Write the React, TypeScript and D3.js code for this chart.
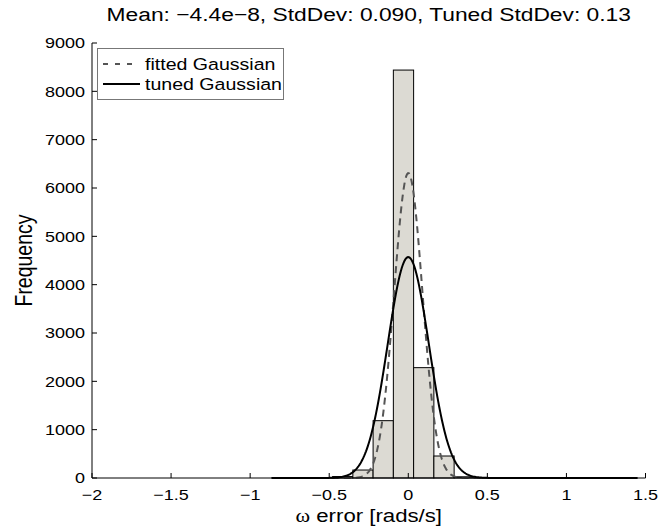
import React from "react";
import * as d3 from "d3";

// ---- data ----
const binStart = -0.863;
const binWidth = 0.1281;
const binCounts = [2, 3, 8, 30, 165, 1186, 8440, 2283, 455, 25, 4, 1];
const xTicks = [-2, -1.5, -1, -0.5, 0, 0.5, 1, 1.5];
const yTicks = [0, 1000, 2000, 3000, 4000, 5000, 6000, 7000, 8000, 9000];
const curveMean = 0;
const fittedStd = 0.09;
const fittedPeak = 6310;
const tunedStd = 0.13;
const tunedPeak = 4570;
const curveRange = [-0.863, 1.45];
const titleText = "Mean: \u22124.4e\u22128, StdDev: 0.090, Tuned StdDev: 0.13";
const legendLabels = ["fitted Gaussian", "tuned Gaussian"];

const W = 661, H = 530;
const L = 92, R = 645.5, T = 43, B = 478;
const SX = 1.2;

function Txt(props: { x: number; y: number; size: number; anchor?: string; rotate?: number; dy?: string; children: React.ReactNode }) {
  const { x, y, size, anchor = "start", rotate = 0, dy, children } = props;
  return (
    <text transform={`translate(${x},${y}) scale(${SX},1)${rotate ? ` rotate(${rotate})` : ""}`} fontSize={size} textAnchor={anchor} dy={dy}>
      {children}
    </text>
  );
}

export default function App() {
  const x = d3.scaleLinear().domain([-2, 1.5]).range([L, R]);
  const y = d3.scaleLinear().domain([0, 9000]).range([B, T]);
  const bins = binCounts.map((c, i) => ({ x0: binStart + i * binWidth, x1: binStart + (i + 1) * binWidth, c }));
  const n = 400;
  const xs = d3.range(n + 1).map((i) => curveRange[0] + (i / n) * (curveRange[1] - curveRange[0]));
  const gauss = (peak: number, s: number) => xs.map((v) => [v, peak * Math.exp(-((v - curveMean) ** 2) / (2 * s * s))] as [number, number]);
  const line = d3.line<[number, number]>().x((d) => x(d[0])).y((d) => y(d[1]));
  const fmtY = (v: number) => String(v);
  const fmtX = (v: number) => (v < 0 ? "\u2212" + String(-v) : String(v));
  const font = "'Liberation Sans', Arial, Helvetica, sans-serif";
  return (
    <svg width={W} height={H} style={{ position: "absolute", left: 0, top: 0, background: "#fff" }} fontFamily={font}>
      <rect width={W} height={H} fill="#fff" />
      {bins.map((b, i) => (
        <rect key={i} x={x(b.x0)} y={y(b.c)} width={x(b.x1) - x(b.x0)} height={B - y(b.c)} fill="#dcdad3" stroke="#000" strokeWidth={1} />
      ))}
      <path d={line(gauss(fittedPeak, fittedStd)) || ""} fill="none" stroke="#555" strokeWidth={2} strokeDasharray="7,5" />
      <path d={line(gauss(tunedPeak, tunedStd)) || ""} fill="none" stroke="#000" strokeWidth={2} />
      {/* axes */}
      <line x1={L} x2={L} y1={T} y2={B} stroke="#000" strokeWidth={1} />
      <line x1={L} x2={R} y1={B} y2={B} stroke="#000" strokeWidth={1} />
      {yTicks.map((t) => (
        <g key={"y" + t}>
          <line x1={L} x2={L + 5} y1={y(t)} y2={y(t)} stroke="#000" />
          <Txt x={L - 7} y={y(t)} dy="0.36em" anchor="end" size={15}>{fmtY(t)}</Txt>
        </g>
      ))}
      {xTicks.map((t) => (
        <g key={"x" + t}>
          <line x1={x(t)} x2={x(t)} y1={B} y2={B - 5} stroke="#000" />
          <Txt x={x(t)} y={B + 21.5} anchor="middle" size={15}>{fmtX(t)}</Txt>
        </g>
      ))}
      <Txt x={(L + R) / 2} y={21} anchor="middle" size={19}>{titleText}</Txt>
      <Txt x={(L + R) / 2} y={522} anchor="middle" size={18.5}>
        <tspan fontFamily="'Liberation Serif', 'Times New Roman', serif">ω</tspan> error [rads/s]
      </Txt>
      <Txt x={32} y={(T + B) / 2} anchor="middle" size={19.5} rotate={-90}>Frequency</Txt>
      {/* legend */}
      <rect x={97.5} y={48.5} width={186} height={51} fill="#fff" stroke="#777" strokeWidth={1} />
      <line x1={103} x2={132} y1={64} y2={64} stroke="#555" strokeWidth={2} strokeDasharray="5,7" />
      <line x1={103} x2={140} y1={84} y2={84} stroke="#000" strokeWidth={2} />
      <Txt x={145} y={64} dy="0.36em" size={16.3}>{legendLabels[0]}</Txt>
      <Txt x={145} y={84} dy="0.36em" size={16.3}>{legendLabels[1]}</Txt>
    </svg>
  );
}
